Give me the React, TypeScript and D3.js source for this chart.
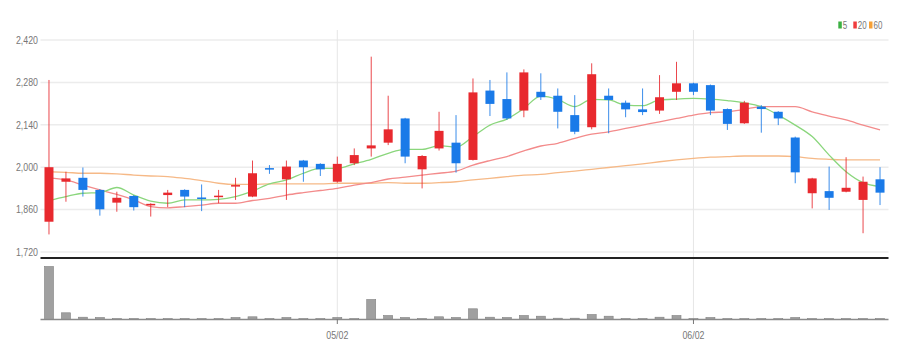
import * as d3 from "d3";

// trading days shown on the chart
const dates = [
  "04/06", "04/07", "04/10", "04/11", "04/12", "04/13", "04/14", "04/17", "04/18", "04/19",
  "04/20", "04/21", "04/24", "04/25", "04/26", "04/27", "04/28", "05/02", "05/03", "05/04",
  "05/08", "05/09", "05/10", "05/11", "05/12", "05/15", "05/16", "05/17", "05/18", "05/19",
  "05/22", "05/23", "05/24", "05/25", "05/26", "05/30", "05/31", "06/01", "06/02", "06/05",
  "06/07", "06/08", "06/09", "06/12", "06/13", "06/14", "06/15", "06/16", "06/19", "06/20",
];

const opens = [
  1820, 1952, 1965, 1925, 1883, 1905, 1874, 1908, 1925, 1900,
  1902, 1936, 1903, 1997, 1960, 2022, 2011, 1952, 2013, 2062,
  2081, 2161, 1993, 2062, 2081, 2024, 2253, 2225, 2187, 2249,
  2236, 2172, 2132, 2236, 2213, 2191, 2187, 2249, 2277, 2271,
  2192, 2145, 2200, 2183, 2098, 1914, 1921, 1919, 1892, 1960,
];
const closes = [
  2000, 1963, 1925, 1861, 1899, 1868, 1879, 1916, 1903, 1896,
  1906, 1941, 1980, 1993, 2002, 2000, 1993, 2011, 2040, 2072,
  2125, 2035, 2037, 2120, 2013, 2247, 2209, 2161, 2313, 2231,
  2183, 2117, 2307, 2222, 2191, 2182, 2231, 2277, 2249, 2187,
  2143, 2213, 2192, 2161, 1983, 1963, 1899, 1932, 1952, 1916,
];
const highs = [
  2288, 1985, 1999, 1928, 1919, 1908, 1881, 1925, 1927, 1943,
  1925, 1965, 2022, 2007, 2022, 2024, 2013, 2035, 2062, 2365,
  2236, 2163, 2040, 2183, 2172, 2293, 2288, 2313, 2323, 2310,
  2260, 2238, 2343, 2260, 2220, 2260, 2304, 2348, 2279, 2273,
  2194, 2219, 2205, 2185, 2101, 1965, 2002, 2033, 1969, 2000,
];
const lows = [
  1778, 1886, 1903, 1840, 1853, 1857, 1837, 1868, 1868, 1855,
  1881, 1892, 1901, 1978, 1892, 1952, 1971, 1949, 2007, 2035,
  2073, 2013, 1930, 2055, 1982, 2022, 2169, 2156, 2165, 2222,
  2128, 2109, 2125, 2112, 2165, 2172, 2176, 2222, 2238, 2172,
  2123, 2143, 2114, 2139, 1947, 1864, 1859, 1917, 1782, 1875,
];
const volumes = [
  530000, 67000, 23000, 20000, 9000, 9000, 9000, 9000, 9000, 9000,
  9000, 20000, 27000, 9000, 20000, 9000, 9000, 20000, 9000, 200000,
  40000, 20000, 9000, 27000, 20000, 107000, 23000, 20000, 40000, 33000,
  13000, 13000, 50000, 33000, 9000, 9000, 23000, 40000, 9000, 20000,
  9000, 9000, 9000, 9000, 20000, 9000, 9000, 9000, 9000, 9000,
];

// moving averages as drawn
const ma5 = [
  1890, 1903, 1914, 1916, 1933, 1908, 1888, 1881, 1892, 1892,
  1894, 1903, 1921, 1945, 1958, 1980, 1996, 1996, 2011, 2026,
  2046, 2059, 2059, 2071, 2066, 2101, 2139, 2159, 2194, 2235,
  2224, 2200, 2224, 2222, 2205, 2203, 2222, 2225, 2227, 2225,
  2220, 2213, 2200, 2172, 2139, 2101, 2040, 1985, 1949, 1936,
];
const ma20 = [
  1965, 1958, 1941, 1925, 1910, 1892, 1870, 1866, 1870, 1875,
  1881, 1881, 1890, 1897, 1908, 1916, 1923, 1930, 1941, 1949,
  1961, 1967, 1974, 1980, 1987, 2007, 2022, 2035, 2054, 2070,
  2079, 2095, 2109, 2117, 2128, 2139, 2150, 2161, 2172, 2180,
  2183, 2191, 2200, 2200, 2200, 2183, 2169, 2156, 2139, 2123,
];
const ma60 = [
  1985, 1983, 1980, 1980, 1978, 1974, 1971, 1969, 1963, 1956,
  1947, 1943, 1943, 1945, 1945, 1945, 1945, 1947, 1947, 1947,
  1949, 1947, 1947, 1949, 1952, 1958, 1963, 1969, 1974, 1976,
  1982, 1987, 1993, 1999, 2005, 2011, 2018, 2024, 2029, 2033,
  2035, 2037, 2037, 2037, 2035, 2029, 2026, 2024, 2024, 2024,
];

const priceTicks = [1720, 1860, 2000, 2140, 2280, 2420];
const dateTicks = ["05/02", "06/02"];
const legend = [
  { label: "5", color: "#3cb043" },
  { label: "20", color: "#f03c3c" },
  { label: "60", color: "#f7a035" },
];

const W = 907;
const H = 359;
const left = 40.5;
const right = 888.5;
const UP = "#e8292e";
const DOWN = "#1a7ae8";
const FONT = "'Liberation Sans', sans-serif";
const NARROW = 0.8; // labels in the original are condensed

// condensed label: squeeze horizontally around its anchor point
function Label({ x, y, anchor = "start", size = 11, children }:
  { x: number; y: number; anchor?: string; size?: number; children: string }) {
  return (
    <g transform={`translate(${x},${y}) scale(${NARROW},1)`}>
      <text dy="0.35em" textAnchor={anchor} fontSize={size} fill="#777">{children}</text>
    </g>
  );
}

export default function App() {
  const x = d3.scaleBand<string>()
    .domain(dates)
    .range([left, right])
    .paddingInner(0.47)
    .paddingOuter(0.235);
  const bw = x.bandwidth();
  const cx = (i: number) => (x(dates[i]) ?? 0) + bw / 2;

  const y = d3.scaleLinear().domain([1720, 2420]).range([252, 40]);
  const yv = d3.scaleLinear().domain([0, 540000]).range([319.5, 265.5]);

  const maLine = (vals: number[]) =>
    d3.line<number>()
      .x((_, i) => cx(i))
      .y(d => y(d))
      .curve(d3.curveMonotoneX)(vals) ?? "";

  return (
    <svg width={W} height={H} style={{ position: "absolute", left: 0, top: 0, fontFamily: FONT }}>
      <rect width={W} height={H} fill="#fff" />

      {/* price grid */}
      {priceTicks.map(t => (
        <g key={t}>
          <line x1={left} x2={right} y1={y(t)} y2={y(t)} stroke="#ececec" strokeWidth={1.5} />
          <Label x={38} y={y(t)} anchor="end">{d3.format(",")(t)}</Label>
        </g>
      ))}

      {/* month lines */}
      {dateTicks.map(d => (
        <line key={d} x1={cx(dates.indexOf(d))} x2={cx(dates.indexOf(d))} y1={30} y2={319}
          stroke="#e6e6e6" strokeWidth={1} />
      ))}

      {/* moving averages */}
      <path d={maLine(ma60)} fill="none" stroke="#f6b987" strokeWidth={1.3} />
      <path d={maLine(ma20)} fill="none" stroke="#f38b8b" strokeWidth={1.3} />
      <path d={maLine(ma5)} fill="none" stroke="#8ad67c" strokeWidth={1.3} />

      {/* candles */}
      {dates.map((d, i) => {
        const up = closes[i] >= opens[i];
        const c = up ? UP : DOWN;
        const top = y(Math.max(opens[i], closes[i]));
        const bot = y(Math.min(opens[i], closes[i]));
        return (
          <g key={d}>
            <line x1={cx(i)} x2={cx(i)} y1={y(highs[i])} y2={y(lows[i])} stroke={c} strokeWidth={1} opacity={0.85} />
            <rect x={x(d)} y={top} width={bw} height={Math.max(bot - top, 1.5)} fill={c} />
          </g>
        );
      })}

      {/* pane separator */}
      <line x1={left} x2={right} y1={258} y2={258} stroke="#222" strokeWidth={2} />

      {/* volume */}
      {dates.map((d, i) => (
        <rect key={d} x={x(d)} y={yv(volumes[i])} width={bw} height={yv(0) - yv(volumes[i])}
          fill="#a0a0a0" stroke="#808080" strokeWidth={0.6} />
      ))}
      <line x1={left} x2={right} y1={319.5} y2={319.5} stroke="#8a8a8a" strokeWidth={1.5} />

      {/* date axis */}
      {dateTicks.map(d => (
        <g key={d}>
          <line x1={cx(dates.indexOf(d))} x2={cx(dates.indexOf(d))} y1={319} y2={324} stroke="#777" />
          <Label x={cx(dates.indexOf(d))} y={335} anchor="middle">{d}</Label>
        </g>
      ))}

      {/* legend */}
      {legend.map((l, i) => {
        const lx = [838.3, 853.3, 869][i];
        return (
          <g key={l.label}>
            <rect x={lx} y={21.5} width={3.5} height={7} fill={l.color} />
            <Label x={lx + 4.5} y={25} size={10}>{l.label}</Label>
          </g>
        );
      })}
    </svg>
  );
}
